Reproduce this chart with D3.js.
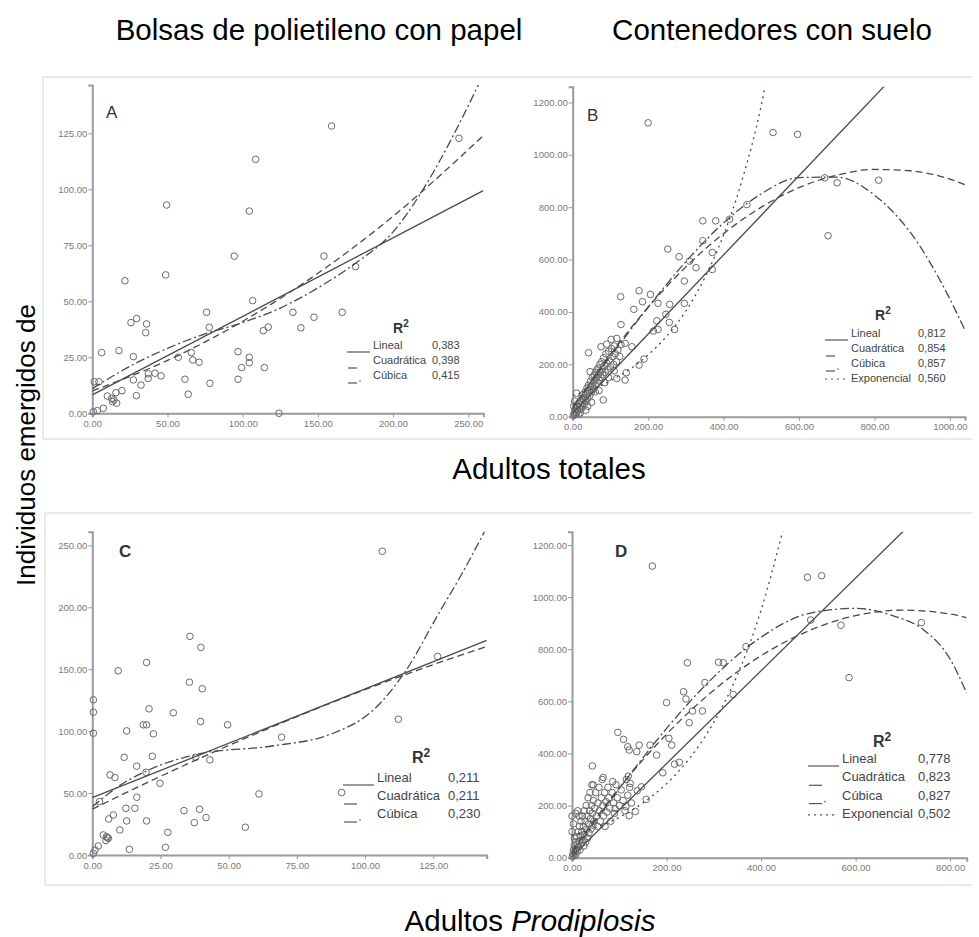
<!DOCTYPE html>
<html>
<head>
<meta charset="utf-8">
<script src="https://cdn.jsdelivr.net/npm/d3@7.8.5/dist/d3.min.js"></script>
<style>
  html, body { margin: 0; padding: 0; background: #fff; }
  svg { display: block; font-family: 'Liberation Sans', Arial, sans-serif; }
  .tick text { font-size: 9.5px; fill: #7a7a7a; }
  .tick line { stroke: #999; }
  .domain { stroke: #9a9a9a; stroke-width: 2; }
</style>
</head>
<body>
<div id="chart"></div>
<script>
// ---- data ----
const titles = ['Bolsas de polietileno con papel', 'Contenedores con suelo'];
const yLabel = 'Individuos emergidos de';
const xLabelTop = 'Adultos totales';

const ticksXA = [0, 50, 100, 150, 200, 250];
const ticksYA = [0, 25, 50, 75, 100, 125];
const ticksXB = [0, 200, 400, 600, 800, 1000];
const ticksYB = [0, 200, 400, 600, 800, 1000, 1200];
const ticksXC = [0, 25, 50, 75, 100, 125];
const ticksYC = [0, 50, 100, 150, 200, 250];
const ticksXD = [0, 200, 400, 600, 800];
const ticksYD = [0, 200, 400, 600, 800, 1000, 1200];

const pointsA = [
  [159.1,128.3],[243.8,122.8],[108.6,113.4],[49.4,93],[104.4,90.3],[94.4,70.2],[154,70.2],[175.1,65.5],
  [48.8,61.8],[21.7,59.2],[106.6,50.3],[76,45.1],[133.4,45.1],[166.2,45.1],[147.4,42.9],[25.7,40.5],
  [29.5,42.3],[36.1,39.9],[35.5,36],[77.8,38.4],[117,38.5],[113.7,36.9],[138.7,38.2],[6.2,27.1],
  [17.7,28],[27.3,25.3],[57.2,25],[65.8,27.1],[66.8,23.8],[71,22.8],[96.9,27.5],[104.4,25],
  [104.4,22.6],[99.3,20.4],[114.4,20.4],[4.4,14.1],[1.3,14.1],[37.2,17.6],[41.7,17.9],[45.7,16.7],
  [27.3,14.9],[32.4,12.6],[37.2,15.6],[61.6,15.2],[78.2,13.4],[96.9,15.2],[63.8,8.5],[29.3,7.9],
  [19.7,10.1],[15.7,9.2],[10,7.7],[12.9,6.7],[14.4,6],[16.2,4.5],[13.5,5.2],[7.3,2.2],[3.3,1.2],
  [0.7,0.7],[124.1,0]
];

const pointsB = [
  [200,1122],[531,1085],[596,1078],[668,912],[701,893],[811,903],[677,691],[462,810],[416,754],
  [345,748],[379,748],[345,672],[370,627],[370,562],[252,640],[282,611],[310,594],[327,569],
  [296,518],[296,433],[176,481],[206,467],[185,439],[162,410],[226,433],[257,429],[247,391],
  [127,458],[128,352],[223,366],[256,360],[226,333],[214,327],[270,333],[42,244],[75,267],
  [90,277],[102,295],[117,299],[139,280],[157,267],[189,220],[176,197],[46,172],[64,178],
  [142,168],[139,140],[117,146],[81,64],
  [2,5],[4,12],[5,20],[7,8],[8,30],[10,15],[12,40],[13,25],[15,50],[16,10],[18,35],[20,60],
  [21,45],[22,28],[24,70],[25,55],[27,40],[28,85],[30,65],[31,50],[33,95],[34,75],[36,60],
  [38,110],[39,88],[40,70],[42,120],[43,100],[45,80],[47,135],[48,115],[50,95],[52,150],
  [53,125],[55,105],[57,160],[58,140],[60,118],[62,170],[63,150],[65,128],[67,185],[68,160],
  [70,140],[72,200],[73,170],[75,150],[77,210],[78,180],[80,160],[82,225],[84,195],[86,170],
  [88,240],[90,205],[92,180],[95,250],[97,215],[100,190],[103,260],[105,230],[108,200],
  [110,270],[113,240],[116,210],[120,255],[125,230],[128,275],[60,95],[35,25],[50,55],
  [20,15],[70,100],[85,130],[95,150],[110,175],[40,40],[5,60],[10,90],[3,40]
];

const pointsC = [
  [106.3,245.2],[35.8,176.5],[39.8,167.6],[19.9,155.4],[9.5,148.7],[35.6,139.5],[40.3,134.2],
  [126.6,160.3],[0.4,125.3],[0.4,115.3],[20.8,118],[29.7,114.8],[112.2,109.6],[39.7,107.8],
  [49.6,105.1],[18.7,105.1],[19.9,105.1],[12.6,100.2],[0.4,98.3],[22.4,97.8],[69.4,95.1],
  [11.7,78.9],[22,79.7],[37.9,78.9],[43.1,76.8],[16.3,71.7],[19.7,66.8],[6.5,64.7],[8.3,62.5],
  [24.8,57.9],[16.3,46.6],[61.1,49.3],[91.4,50.4],[2.6,43.1],[12.3,37.7],[15.6,37.7],
  [33.6,35.8],[39.3,36.9],[7.7,32.3],[6,29.1],[41.7,30.2],[12.6,27.5],[19.9,27.5],[37.4,26.1],
  [10.1,20.2],[27.7,18.3],[56.1,22.4],[4,16.2],[5.2,14.8],[5.9,13.5],[5,11.6],[5.5,14],
  [2.2,7.3],[1,4],[13.6,4.6],[26.8,6.2],[0.4,1.3]
];

const pointsD = [
  [170,1119],[498,1076],[528,1082],[505,912],[569,892],[739,902],[586,691],[368,810],[244,748],
  [310,750],[320,748],[281,672],[236,637],[241,609],[200,595],[276,563],[255,563],[248,518],
  [341,626],[97,481],[109,454],[118,426],[121,413],[137,407],[142,432],[165,432],[179,394],
  [205,458],[211,432],[192,326],[217,359],[227,366],[43,352],[157,224],[138,257],[147,272],
  [119,313],[123,285],[114,196],[121,161],[134,177],[91,189],[45,279],[66,308],[86,292],
  [1,5],[2,15],[3,30],[4,8],[5,45],[6,20],[7,60],[8,12],[9,35],[10,80],[11,25],[12,50],
  [13,100],[14,40],[15,65],[16,120],[17,30],[18,85],[19,140],[20,55],[21,100],[22,160],
  [23,70],[24,120],[25,45],[26,180],[27,90],[28,140],[29,60],[30,200],[31,110],[32,160],
  [33,75],[34,230],[35,130],[36,95],[37,180],[38,250],[39,150],[40,110],[41,200],[42,280],
  [43,170],[44,125],[45,220],[46,140],[48,190],[50,250],[52,160],[54,120],[55,210],[57,270],
  [58,180],[60,140],[62,230],[64,300],[65,200],[67,160],[69,250],[70,120],[72,215],[74,175],
  [76,270],[78,230],[80,190],[82,140],[85,250],[88,210],[90,170],[93,280],[96,230],[100,200],
  [104,260],[108,220],[112,180],[115,300],[118,240],[122,270],[126,210],[0,100],[0,160],
  [3,130],[8,170],[12,180],[5,75],[15,160]
];

// fitted curves, points
const linA = [[0,8.2],[260,99.4]];
const quadA = [[0,10],[50,23.6],[100,41.1],[150,62.5],[200,88],[260,124]];
const cubA = [[0,11],[25,21],[50,29],[75,35.5],[100,40.5],[125,47],[150,56],[175,67],[200,81],[220,100],[240,124],[257,147]];

const linB = [[0,13],[830,1268]];
const quadB = [[0,30],[100,237],[200,418],[300,572],[400,699],[500,800],[600,875],[700,922],[800,944],[900,938],[1000,907],[1040,886]];
const cubB = [[0,38],[100,230],[200,418],[300,592],[400,740],[500,851],[600,913],[700,915],[800,846],[900,694],[1000,449],[1040,330]];
const expB = [[0,80],[100,137],[200,236],[250,309],[300,404],[350,530],[400,694],[450,908],[500,1190],[520,1340]];

const linC = [[0,46.3],[144.6,173.2]];
const quadC = [[0,37],[25,63.5],[50,88.4],[75,111.7],[100,133.5],[125,153.7],[144.6,168.4]];
const cubC = [[0,39],[10,56],[21,69],[40,82],[66,88],[88,98],[103,117],[115,149],[127,195],[135,225],[144,262]];

const linD = [[0,5],[710,1269]];
const quadD = [[0,25],[100,268],[200,474],[300,643],[400,775],[500,870],[600,929],[700,950],[800,935],[835,921]];
const cubD = [[0,15],[100,265],[200,496],[300,694],[400,846],[500,937],[600,957],[680,928],[744,874],[800,762],[835,631]];
const expD = [[0,85],[50,115],[100,155],[150,210],[200,284],[250,384],[300,520],[350,702],[400,950],[450,1284]];

const fitNames3 = ['Lineal', 'Cuadrática', 'Cúbica'];
const fitNames4 = ['Lineal', 'Cuadrática', 'Cúbica', 'Exponencial'];
const r2A = ['0,383', '0,398', '0,415'];
const r2B = ['0,812', '0,854', '0,857', '0,560'];
const r2C = ['0,211', '0,211', '0,230'];
const r2D = ['0,778', '0,823', '0,827', '0,502'];

// ---- layout ----
const W = 979, H = 937;
const dashes = { Lineal: null, 'Cuadrática': '7,4', 'Cúbica': '9,3,2,3', Exponencial: '2,4' };

const svg = d3.select('#chart').append('svg')
  .attr('width', W)
  .attr('height', H);

// frames
[[43, 77, 439], [45, 513, 885]].forEach(([x0, y0, y1]) => {
  svg.append('path')
    .attr('d', `M972,${y0}H${x0}V${y1}H972`)
    .attr('fill', 'none')
    .attr('stroke', '#d4d4d4')
    .attr('stroke-width', 1);
});

const panels = [
  { letter: 'A', bold: false, pts: pointsA, xt: ticksXA, yt: ticksYA,
    xd: [0, 260], yd: [0, 146.6], xr: [92.3, 483.3], yr: [413.3, 85],
    curves: [linA, quadA, cubA], names: fitNames3, r2: r2A,
    lx: 373, ly: 349, vx: 432, step: 15, fs: 11, r2x: 393, r2y: 333, letterPos: [106, 118] },
  { letter: 'B', bold: false, pts: pointsB, xt: ticksXB, yt: ticksYB,
    xd: [0, 1040], yd: [0, 1260], xr: [572.7, 965], yr: [416.7, 86.7],
    curves: [linB, quadB, cubB, expB], names: fitNames4, r2: r2B,
    lx: 851, ly: 337, vx: 918, step: 15, fs: 11, r2x: 875, r2y: 320, letterPos: [587, 121] },
  { letter: 'C', bold: true, pts: pointsC, xt: ticksXC, yt: ticksYC,
    xd: [0, 144.6], yd: [0, 261], xr: [92.3, 486.7], yr: [855, 531.7],
    curves: [linC, quadC, cubC], names: fitNames3, r2: r2C,
    lx: 377, ly: 782, vx: 448, step: 18, fs: 13, r2x: 412, r2y: 763, letterPos: [119, 557] },
  { letter: 'D', bold: true, pts: pointsD, xt: ticksXD, yt: ticksYD,
    xd: [0, 835], yd: [0, 1251], xr: [572, 966.7], yr: [857.7, 531.7],
    curves: [linD, quadD, cubD, expD], names: fitNames4, r2: r2D,
    lx: 842, ly: 763, vx: 918, step: 18.3, fs: 13, r2x: 873, r2y: 747, letterPos: [615, 557] }
];

panels.forEach((p, i) => {
  const x = d3.scaleLinear().domain(p.xd).range(p.xr);
  const y = d3.scaleLinear().domain(p.yd).range(p.yr);
  const g = svg.append('g');

  const clipId = 'clip' + i;
  svg.append('clipPath').attr('id', clipId)
    .append('rect')
    .attr('x', p.xr[0]).attr('y', p.yr[1])
    .attr('width', p.xr[1] - p.xr[0]).attr('height', p.yr[0] - p.yr[1]);

  g.append('g')
    .attr('transform', `translate(0,${p.yr[0]})`)
    .call(d3.axisBottom(x).tickValues(p.xt).tickFormat(d3.format('.2f')).tickSizeOuter(0).tickSize(4).tickPadding(3));

  g.append('g')
    .attr('transform', `translate(${p.xr[0]},0)`)
    .call(d3.axisLeft(y).tickValues(p.yt).tickFormat(d3.format('.2f')).tickSizeOuter(0).tickSize(4).tickPadding(1));

  // scatter
  g.append('g').selectAll('circle')
    .data(p.pts)
    .join('circle')
    .attr('cx', d => x(d[0]))
    .attr('cy', d => y(d[1]))
    .attr('r', 3.3)
    .attr('fill', 'none')
    .attr('stroke', '#6a6a6a')
    .attr('stroke-width', 1);

  // fit lines
  const line = d3.line()
    .x(d => x(d[0]))
    .y(d => y(d[1]))
    .curve(d3.curveMonotoneX);

  const curveG = g.append('g').attr('clip-path', `url(#${clipId})`);
  p.curves.forEach((c, k) => {
    curveG.append('path')
      .attr('d', line(c))
      .attr('fill', 'none')
      .attr('stroke', '#4a4a4a')
      .attr('stroke-width', 1.3)
      .attr('stroke-dasharray', dashes[p.names[k]]);
  });

  // panel letter
  g.append('text')
    .attr('x', p.letterPos[0]).attr('y', p.letterPos[1])
    .attr('font-size', 17)
    .attr('font-weight', p.bold ? 'bold' : 'normal')
    .attr('fill', '#333')
    .text(p.letter);

  // legend
  const r2t = g.append('text')
    .attr('x', p.r2x).attr('y', p.r2y)
    .attr('font-size', p.fs + 3)
    .attr('font-weight', 'bold')
    .attr('fill', '#333');
  r2t.append('tspan').text('R');
  r2t.append('tspan').attr('dy', -6).attr('font-size', p.fs - 1).text('2');

  p.names.forEach((name, k) => {
    const by = p.ly + k * p.step;
    g.append('text')
      .attr('x', p.lx).attr('y', by)
      .attr('font-size', p.fs).attr('fill', '#444')
      .text(name);
    g.append('text')
      .attr('x', p.vx).attr('y', by)
      .attr('font-size', p.fs).attr('fill', '#444')
      .text(p.r2[k]);

    const sx0 = p.lx - (p.fs > 11 ? 34 : 26);
    let seg;
    if (name === 'Lineal') seg = [sx0, p.lx - 3, by + 3];
    else if (name === 'Exponencial') seg = [sx0, p.lx - 5, by - 3];
    else seg = [sx0 + 1, sx0 + (p.fs > 11 ? 14 : 10), by + 4];
    g.append('line')
      .attr('x1', seg[0]).attr('x2', seg[1])
      .attr('y1', seg[2]).attr('y2', seg[2])
      .attr('stroke', '#555')
      .attr('stroke-width', 1.2)
      .attr('stroke-dasharray', name === 'Exponencial' ? '2,4' : null);
    if (name === 'Cúbica') {
      g.append('circle')
        .attr('cx', seg[1] + 3).attr('cy', seg[2] - 2)
        .attr('r', 0.8).attr('fill', '#555');
    }
  });
});

// titles and axis labels
svg.selectAll('.title')
  .data(titles)
  .join('text')
  .attr('class', 'title')
  .attr('x', (d, i) => i === 0 ? 319 : 772)
  .attr('y', 40)
  .attr('text-anchor', 'middle')
  .attr('font-size', 29.5)
  .attr('fill', '#000')
  .text(d => d);

svg.append('text')
  .attr('x', 549).attr('y', 479)
  .attr('text-anchor', 'middle')
  .attr('font-size', 29.5)
  .text(xLabelTop);

const xb = svg.append('text')
  .attr('x', 530).attr('y', 931)
  .attr('text-anchor', 'middle')
  .attr('font-size', 29.5);
xb.append('tspan').text('Adultos ');
xb.append('tspan').attr('font-style', 'italic').text('Prodiplosis');

svg.append('text')
  .attr('transform', 'translate(35,445) rotate(-90)')
  .attr('text-anchor', 'middle')
  .attr('font-size', 26)
  .text(yLabel);
</script>
</body>
</html>
